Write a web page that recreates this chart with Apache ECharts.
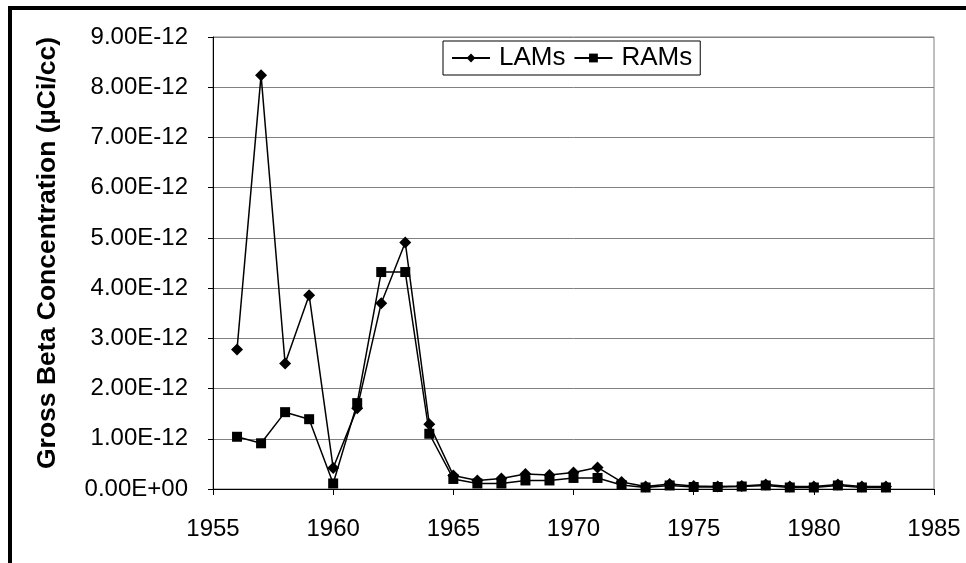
<!DOCTYPE html>
<html>
<head>
<meta charset="utf-8">
<script src="https://cdn.jsdelivr.net/npm/echarts@6/dist/echarts.min.js"></script>
<style>
    html, body { margin: 0; padding: 0; background: #fff; }
    #chart { width: 966px; height: 563px; }
</style>
</head>
<body>
<div id="chart"></div>
<script>
// years and values (µCi/cc)
const years = [1956, 1957, 1958, 1959, 1960, 1961, 1962, 1963, 1964, 1965, 1966, 1967, 1968, 1969,
    1970, 1971, 1972, 1973, 1974, 1975, 1976, 1977, 1978, 1979, 1980, 1981, 1982, 1983]
const lams = [2.78e-12, 8.24e-12, 2.50e-12, 3.86e-12, 0.42e-12, 1.61e-12, 3.70e-12, 4.91e-12, 1.29e-12,
    0.27e-12, 0.17e-12, 0.21e-12, 0.30e-12, 0.28e-12, 0.33e-12, 0.43e-12, 0.14e-12, 0.05e-12,
    0.10e-12, 0.06e-12, 0.05e-12, 0.06e-12, 0.09e-12, 0.05e-12, 0.05e-12, 0.09e-12, 0.05e-12, 0.05e-12]
const rams = [1.04e-12, 0.91e-12, 1.53e-12, 1.39e-12, 0.11e-12, 1.71e-12, 4.32e-12, 4.32e-12, 1.10e-12,
    0.20e-12, 0.11e-12, 0.11e-12, 0.17e-12, 0.17e-12, 0.22e-12, 0.22e-12, 0.08e-12, 0.03e-12,
    0.07e-12, 0.04e-12, 0.04e-12, 0.05e-12, 0.07e-12, 0.03e-12, 0.03e-12, 0.07e-12, 0.03e-12, 0.03e-12]
const yTitle = 'Gross Beta Concentration (µCi/cc)'

const font = '"Liberation Sans", Arial, sans-serif'

function sci(v) {
    // 9.00E-12 style labels
    const [m, e] = v.toExponential(2).split('e')
    const n = parseInt(e, 10)
    const sign = n < 0 ? '-' : '+'
    return m + 'E' + sign + String(Math.abs(n)).padStart(2, '0')
}

const myChart = echarts.init(document.getElementById('chart'))
myChart.setOption({
    animation: false,
    backgroundColor: '#fff',
    textStyle: { fontFamily: font },
    graphic: [
        {
            type: 'rect',
            shape: { x: 10, y: 8, width: 1200, height: 1200 },
            style: { fill: 'none', stroke: '#000', lineWidth: 4 },
            silent: true
        }
    ],
    grid: {
        left: 213,
        top: 37,
        right: 32,
        bottom: 74,
        show: true,
        borderColor: '#808080',
        borderWidth: 1
    },
    legend: {
        left: 443,
        top: 41,
        padding: [4, 8, 4, 8],
        itemGap: 8,
        itemWidth: 38,
        itemHeight: 11,
        borderColor: '#000',
        borderWidth: 1,
        textStyle: { fontSize: 26, color: '#000', fontFamily: font, padding: [0, 0, 0, 4] },
        data: ['LAMs', 'RAMs']
    },
    xAxis: {
        type: 'value',
        min: 1955,
        max: 1985,
        interval: 5,
        axisLine: { lineStyle: { color: '#000', width: 1 } },
        axisTick: { show: true, length: 6, lineStyle: { color: '#000' } },
        axisLabel: { fontSize: 24, color: '#000', margin: 28, fontFamily: font, formatter: v => String(v) },
        splitLine: { show: false }
    },
    yAxis: {
        type: 'value',
        min: 0,
        max: 9e-12,
        interval: 1e-12,
        name: yTitle,
        nameLocation: 'middle',
        nameGap: 152,
        nameTextStyle: { fontSize: 26.5, fontWeight: 'bold', color: '#000', fontFamily: font, padding: [0, 0, 0, 20] },
        axisLine: { show: true, lineStyle: { color: '#000', width: 1 } },
        axisTick: { show: true, length: 5, lineStyle: { color: '#000' } },
        axisLabel: { fontSize: 24, color: '#000', margin: 25, formatter: sci, fontFamily: font },
        splitLine: { show: true, lineStyle: { color: '#808080', width: 1 } }
    },
    series: [
        {
            name: 'LAMs',
            type: 'line',
            symbol: 'diamond',
            symbolSize: 12,
            color: '#000',
            lineStyle: { color: '#000', width: 1.5 },
            itemStyle: { color: '#000' },
            data: years.map((y, i) => [y, lams[i]])
        },
        {
            name: 'RAMs',
            type: 'line',
            symbol: 'rect',
            symbolSize: 10,
            color: '#000',
            lineStyle: { color: '#000', width: 1.5 },
            itemStyle: { color: '#000' },
            data: years.map((y, i) => [y, rams[i]])
        }
    ]
})
</script>
</body>
</html>
